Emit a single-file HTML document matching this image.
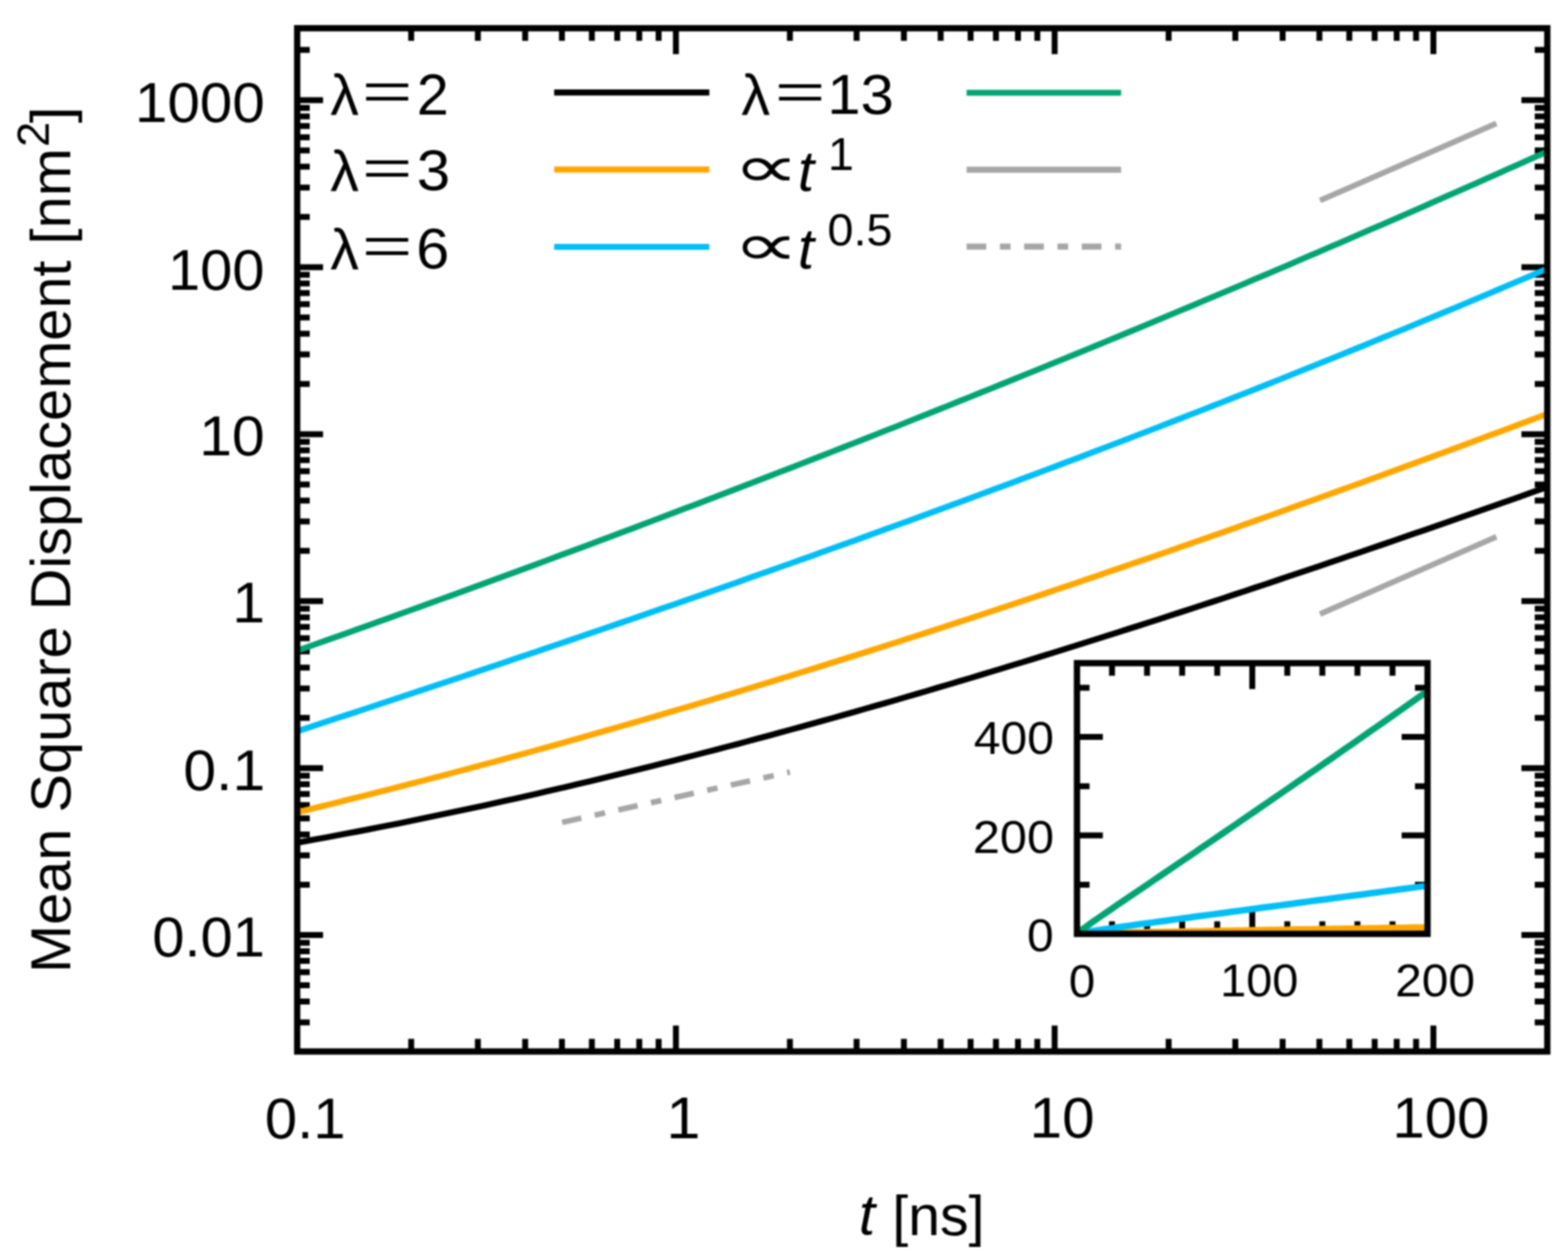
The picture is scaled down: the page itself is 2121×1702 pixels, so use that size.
<!DOCTYPE html><html><head><meta charset="utf-8"><title>Mean Square Displacement</title><style>html,body{margin:0;padding:0;background:#fff;width:2121px;height:1702px;overflow:hidden}svg{display:block;filter:blur(1px)}</style></head><body><svg xmlns="http://www.w3.org/2000/svg" width="2121" height="1702" viewBox="0 0 2121 1702">
<rect width="2121" height="1702" fill="#fff"/>
<defs><clipPath id="pc"><rect x="402.0" y="38.2" width="1691.0" height="1384.3999999999999"/></clipPath><clipPath id="ic"><rect x="1456.8" y="897.2" width="474.20000000000005" height="366.29999999999995"/></clipPath></defs>
<path d="M556.2,1422.6 v-17.0 M556.2,38.2 v17.0 M646.4,1422.6 v-17.0 M646.4,38.2 v17.0 M710.4,1422.6 v-17.0 M710.4,38.2 v17.0 M760.1,1422.6 v-17.0 M760.1,38.2 v17.0 M800.6,1422.6 v-17.0 M800.6,38.2 v17.0 M834.9,1422.6 v-17.0 M834.9,38.2 v17.0 M864.7,1422.6 v-17.0 M864.7,38.2 v17.0 M890.9,1422.6 v-17.0 M890.9,38.2 v17.0 M914.3,1422.6 v-35.0 M914.3,38.2 v35.0 M1068.5,1422.6 v-17.0 M1068.5,38.2 v17.0 M1158.7,1422.6 v-17.0 M1158.7,38.2 v17.0 M1222.7,1422.6 v-17.0 M1222.7,38.2 v17.0 M1272.4,1422.6 v-17.0 M1272.4,38.2 v17.0 M1312.9,1422.6 v-17.0 M1312.9,38.2 v17.0 M1347.2,1422.6 v-17.0 M1347.2,38.2 v17.0 M1377.0,1422.6 v-17.0 M1377.0,38.2 v17.0 M1403.2,1422.6 v-17.0 M1403.2,38.2 v17.0 M1426.6,1422.6 v-35.0 M1426.6,38.2 v35.0 M1580.8,1422.6 v-17.0 M1580.8,38.2 v17.0 M1671.0,1422.6 v-17.0 M1671.0,38.2 v17.0 M1735.0,1422.6 v-17.0 M1735.0,38.2 v17.0 M1784.7,1422.6 v-17.0 M1784.7,38.2 v17.0 M1825.2,1422.6 v-17.0 M1825.2,38.2 v17.0 M1859.5,1422.6 v-17.0 M1859.5,38.2 v17.0 M1889.3,1422.6 v-17.0 M1889.3,38.2 v17.0 M1915.5,1422.6 v-17.0 M1915.5,38.2 v17.0 M1938.9,1422.6 v-35.0 M1938.9,38.2 v35.0 M402.0,1383.2 h17.0 M2093.0,1383.2 h-17.0 M402.0,1355.0 h17.0 M2093.0,1355.0 h-17.0 M402.0,1333.1 h17.0 M2093.0,1333.1 h-17.0 M402.0,1315.2 h17.0 M2093.0,1315.2 h-17.0 M402.0,1300.1 h17.0 M2093.0,1300.1 h-17.0 M402.0,1287.0 h17.0 M2093.0,1287.0 h-17.0 M402.0,1275.4 h17.0 M2093.0,1275.4 h-17.0 M402.0,1265.1 h35.0 M2093.0,1265.1 h-35.0 M402.0,1197.1 h17.0 M2093.0,1197.1 h-17.0 M402.0,1157.3 h17.0 M2093.0,1157.3 h-17.0 M402.0,1129.1 h17.0 M2093.0,1129.1 h-17.0 M402.0,1107.2 h17.0 M2093.0,1107.2 h-17.0 M402.0,1089.3 h17.0 M2093.0,1089.3 h-17.0 M402.0,1074.2 h17.0 M2093.0,1074.2 h-17.0 M402.0,1061.1 h17.0 M2093.0,1061.1 h-17.0 M402.0,1049.5 h17.0 M2093.0,1049.5 h-17.0 M402.0,1039.2 h35.0 M2093.0,1039.2 h-35.0 M402.0,971.2 h17.0 M2093.0,971.2 h-17.0 M402.0,931.4 h17.0 M2093.0,931.4 h-17.0 M402.0,903.2 h17.0 M2093.0,903.2 h-17.0 M402.0,881.3 h17.0 M2093.0,881.3 h-17.0 M402.0,863.4 h17.0 M2093.0,863.4 h-17.0 M402.0,848.3 h17.0 M2093.0,848.3 h-17.0 M402.0,835.2 h17.0 M2093.0,835.2 h-17.0 M402.0,823.6 h17.0 M2093.0,823.6 h-17.0 M402.0,813.3 h35.0 M2093.0,813.3 h-35.0 M402.0,745.3 h17.0 M2093.0,745.3 h-17.0 M402.0,705.5 h17.0 M2093.0,705.5 h-17.0 M402.0,677.3 h17.0 M2093.0,677.3 h-17.0 M402.0,655.4 h17.0 M2093.0,655.4 h-17.0 M402.0,637.5 h17.0 M2093.0,637.5 h-17.0 M402.0,622.4 h17.0 M2093.0,622.4 h-17.0 M402.0,609.3 h17.0 M2093.0,609.3 h-17.0 M402.0,597.7 h17.0 M2093.0,597.7 h-17.0 M402.0,587.4 h35.0 M2093.0,587.4 h-35.0 M402.0,519.4 h17.0 M2093.0,519.4 h-17.0 M402.0,479.6 h17.0 M2093.0,479.6 h-17.0 M402.0,451.4 h17.0 M2093.0,451.4 h-17.0 M402.0,429.5 h17.0 M2093.0,429.5 h-17.0 M402.0,411.6 h17.0 M2093.0,411.6 h-17.0 M402.0,396.5 h17.0 M2093.0,396.5 h-17.0 M402.0,383.4 h17.0 M2093.0,383.4 h-17.0 M402.0,371.8 h17.0 M2093.0,371.8 h-17.0 M402.0,361.5 h35.0 M2093.0,361.5 h-35.0 M402.0,293.5 h17.0 M2093.0,293.5 h-17.0 M402.0,253.7 h17.0 M2093.0,253.7 h-17.0 M402.0,225.5 h17.0 M2093.0,225.5 h-17.0 M402.0,203.6 h17.0 M2093.0,203.6 h-17.0 M402.0,185.7 h17.0 M2093.0,185.7 h-17.0 M402.0,170.6 h17.0 M2093.0,170.6 h-17.0 M402.0,157.5 h17.0 M2093.0,157.5 h-17.0 M402.0,145.9 h17.0 M2093.0,145.9 h-17.0 M402.0,135.6 h35.0 M2093.0,135.6 h-35.0 M402.0,67.6 h17.0 M2093.0,67.6 h-17.0" stroke="#000" stroke-width="8.0" fill="none"/>
<g clip-path="url(#pc)" fill="none" stroke-linejoin="round" stroke-linecap="butt">
<path d="M397.0,1141.0 L411.3,1138.4 L425.6,1135.8 L439.9,1133.2 L454.2,1130.5 L468.5,1127.8 L482.8,1125.1 L497.1,1122.4 L511.4,1119.6 L525.6,1116.7 L539.9,1113.9 L554.2,1111.0 L568.5,1108.1 L582.8,1105.1 L597.1,1102.1 L611.4,1099.1 L625.7,1096.1 L640.0,1093.0 L654.3,1089.9 L668.6,1086.8 L682.9,1083.6 L697.2,1080.4 L711.5,1077.2 L725.8,1073.9 L740.1,1070.6 L754.4,1067.3 L768.6,1064.0 L782.9,1060.6 L797.2,1057.2 L811.5,1053.7 L825.8,1050.3 L840.1,1046.8 L854.4,1043.3 L868.7,1039.7 L883.0,1036.2 L897.3,1032.6 L911.6,1029.0 L925.9,1025.3 L940.2,1021.6 L954.5,1017.9 L968.8,1014.2 L983.1,1010.4 L997.4,1006.7 L1011.6,1002.9 L1025.9,999.0 L1040.2,995.2 L1054.5,991.3 L1068.8,987.4 L1083.1,983.5 L1097.4,979.5 L1111.7,975.5 L1126.0,971.6 L1140.3,967.5 L1154.6,963.5 L1168.9,959.4 L1183.2,955.3 L1197.5,951.2 L1211.8,947.1 L1226.1,942.9 L1240.4,938.8 L1254.6,934.6 L1268.9,930.3 L1283.2,926.1 L1297.5,921.8 L1311.8,917.6 L1326.1,913.3 L1340.4,908.9 L1354.7,904.6 L1369.0,900.2 L1383.3,895.9 L1397.6,891.5 L1411.9,887.0 L1426.2,882.6 L1440.5,878.1 L1454.8,873.7 L1469.1,869.2 L1483.4,864.7 L1497.6,860.1 L1511.9,855.6 L1526.2,851.0 L1540.5,846.5 L1554.8,841.9 L1569.1,837.3 L1583.4,832.6 L1597.7,828.0 L1612.0,823.3 L1626.3,818.6 L1640.6,814.0 L1654.9,809.3 L1669.2,804.5 L1683.5,799.8 L1697.8,795.0 L1712.1,790.3 L1726.4,785.5 L1740.6,780.7 L1754.9,775.9 L1769.2,771.1 L1783.5,766.3 L1797.8,761.4 L1812.1,756.6 L1826.4,751.7 L1840.7,746.8 L1855.0,741.9 L1869.3,737.0 L1883.6,732.1 L1897.9,727.2 L1912.2,722.2 L1926.5,717.3 L1940.8,712.3 L1955.1,707.3 L1969.4,702.4 L1983.6,697.4 L1997.9,692.4 L2012.2,687.4 L2026.5,682.3 L2040.8,677.3 L2055.1,672.3 L2069.4,667.2 L2083.7,662.2 L2098.0,657.1" stroke="#000000" stroke-width="8.2"/>
<path d="M397.0,1100.1 L411.3,1096.7 L425.6,1093.2 L439.9,1089.7 L454.2,1086.2 L468.5,1082.6 L482.8,1079.0 L497.1,1075.4 L511.4,1071.8 L525.6,1068.2 L539.9,1064.5 L554.2,1060.8 L568.5,1057.1 L582.8,1053.4 L597.1,1049.7 L611.4,1045.9 L625.7,1042.1 L640.0,1038.3 L654.3,1034.4 L668.6,1030.6 L682.9,1026.7 L697.2,1022.8 L711.5,1018.9 L725.8,1014.9 L740.1,1011.0 L754.4,1007.0 L768.6,1003.0 L782.9,999.0 L797.2,994.9 L811.5,990.8 L825.8,986.8 L840.1,982.6 L854.4,978.5 L868.7,974.4 L883.0,970.2 L897.3,966.0 L911.6,961.8 L925.9,957.6 L940.2,953.4 L954.5,949.1 L968.8,944.8 L983.1,940.5 L997.4,936.2 L1011.6,931.9 L1025.9,927.5 L1040.2,923.1 L1054.5,918.8 L1068.8,914.3 L1083.1,909.9 L1097.4,905.5 L1111.7,901.0 L1126.0,896.5 L1140.3,892.0 L1154.6,887.5 L1168.9,883.0 L1183.2,878.5 L1197.5,873.9 L1211.8,869.3 L1226.1,864.7 L1240.4,860.1 L1254.6,855.5 L1268.9,850.8 L1283.2,846.2 L1297.5,841.5 L1311.8,836.8 L1326.1,832.1 L1340.4,827.4 L1354.7,822.6 L1369.0,817.9 L1383.3,813.1 L1397.6,808.3 L1411.9,803.5 L1426.2,798.7 L1440.5,793.9 L1454.8,789.1 L1469.1,784.2 L1483.4,779.3 L1497.6,774.4 L1511.9,769.5 L1526.2,764.6 L1540.5,759.7 L1554.8,754.8 L1569.1,749.8 L1583.4,744.8 L1597.7,739.9 L1612.0,734.9 L1626.3,729.9 L1640.6,724.8 L1654.9,719.8 L1669.2,714.8 L1683.5,709.7 L1697.8,704.6 L1712.1,699.6 L1726.4,694.5 L1740.6,689.4 L1754.9,684.2 L1769.2,679.1 L1783.5,674.0 L1797.8,668.8 L1812.1,663.6 L1826.4,658.5 L1840.7,653.3 L1855.0,648.1 L1869.3,642.9 L1883.6,637.7 L1897.9,632.4 L1912.2,627.2 L1926.5,621.9 L1940.8,616.7 L1955.1,611.4 L1969.4,606.1 L1983.6,600.8 L1997.9,595.5 L2012.2,590.2 L2026.5,584.9 L2040.8,579.6 L2055.1,574.2 L2069.4,568.9 L2083.7,563.5 L2098.0,558.2" stroke="#ffa700" stroke-width="8.2"/>
<path d="M397.0,991.0 L411.3,986.3 L425.6,981.6 L439.9,976.9 L454.2,972.2 L468.5,967.5 L482.8,962.8 L497.1,958.1 L511.4,953.4 L525.6,948.6 L539.9,943.9 L554.2,939.1 L568.5,934.4 L582.8,929.6 L597.1,924.8 L611.4,920.1 L625.7,915.3 L640.0,910.5 L654.3,905.7 L668.6,900.9 L682.9,896.1 L697.2,891.2 L711.5,886.4 L725.8,881.6 L740.1,876.7 L754.4,871.8 L768.6,867.0 L782.9,862.1 L797.2,857.2 L811.5,852.3 L825.8,847.4 L840.1,842.5 L854.4,837.6 L868.7,832.6 L883.0,827.7 L897.3,822.7 L911.6,817.8 L925.9,812.8 L940.2,807.8 L954.5,802.8 L968.8,797.8 L983.1,792.8 L997.4,787.8 L1011.6,782.7 L1025.9,777.7 L1040.2,772.6 L1054.5,767.5 L1068.8,762.5 L1083.1,757.4 L1097.4,752.3 L1111.7,747.2 L1126.0,742.0 L1140.3,736.9 L1154.6,731.8 L1168.9,726.6 L1183.2,721.4 L1197.5,716.2 L1211.8,711.0 L1226.1,705.8 L1240.4,700.6 L1254.6,695.4 L1268.9,690.1 L1283.2,684.9 L1297.5,679.6 L1311.8,674.3 L1326.1,669.0 L1340.4,663.7 L1354.7,658.4 L1369.0,653.1 L1383.3,647.7 L1397.6,642.4 L1411.9,637.0 L1426.2,631.6 L1440.5,626.2 L1454.8,620.8 L1469.1,615.4 L1483.4,609.9 L1497.6,604.5 L1511.9,599.0 L1526.2,593.5 L1540.5,588.0 L1554.8,582.5 L1569.1,577.0 L1583.4,571.4 L1597.7,565.9 L1612.0,560.3 L1626.3,554.7 L1640.6,549.1 L1654.9,543.5 L1669.2,537.9 L1683.5,532.2 L1697.8,526.6 L1712.1,520.9 L1726.4,515.2 L1740.6,509.5 L1754.9,503.8 L1769.2,498.0 L1783.5,492.3 L1797.8,486.5 L1812.1,480.7 L1826.4,474.9 L1840.7,469.1 L1855.0,463.3 L1869.3,457.4 L1883.6,451.5 L1897.9,445.7 L1912.2,439.8 L1926.5,433.8 L1940.8,427.9 L1955.1,421.9 L1969.4,416.0 L1983.6,410.0 L1997.9,404.0 L2012.2,397.9 L2026.5,391.9 L2040.8,385.8 L2055.1,379.8 L2069.4,373.7 L2083.7,367.6 L2098.0,361.4" stroke="#00bef6" stroke-width="8.2"/>
<path d="M397.0,882.1 L411.3,877.1 L425.6,872.0 L439.9,866.9 L454.2,861.9 L468.5,856.8 L482.8,851.7 L497.1,846.6 L511.4,841.4 L525.6,836.3 L539.9,831.2 L554.2,826.0 L568.5,820.8 L582.8,815.7 L597.1,810.5 L611.4,805.3 L625.7,800.1 L640.0,794.9 L654.3,789.6 L668.6,784.4 L682.9,779.1 L697.2,773.9 L711.5,768.6 L725.8,763.3 L740.1,758.0 L754.4,752.7 L768.6,747.4 L782.9,742.1 L797.2,736.8 L811.5,731.4 L825.8,726.1 L840.1,720.7 L854.4,715.3 L868.7,709.9 L883.0,704.5 L897.3,699.1 L911.6,693.7 L925.9,688.2 L940.2,682.8 L954.5,677.3 L968.8,671.9 L983.1,666.4 L997.4,660.9 L1011.6,655.4 L1025.9,649.9 L1040.2,644.4 L1054.5,638.8 L1068.8,633.3 L1083.1,627.7 L1097.4,622.1 L1111.7,616.6 L1126.0,611.0 L1140.3,605.4 L1154.6,599.7 L1168.9,594.1 L1183.2,588.5 L1197.5,582.8 L1211.8,577.2 L1226.1,571.5 L1240.4,565.8 L1254.6,560.1 L1268.9,554.4 L1283.2,548.7 L1297.5,542.9 L1311.8,537.2 L1326.1,531.4 L1340.4,525.7 L1354.7,519.9 L1369.0,514.1 L1383.3,508.3 L1397.6,502.5 L1411.9,496.7 L1426.2,490.8 L1440.5,485.0 L1454.8,479.1 L1469.1,473.2 L1483.4,467.4 L1497.6,461.5 L1511.9,455.6 L1526.2,449.6 L1540.5,443.7 L1554.8,437.8 L1569.1,431.8 L1583.4,425.8 L1597.7,419.8 L1612.0,413.9 L1626.3,407.8 L1640.6,401.8 L1654.9,395.8 L1669.2,389.8 L1683.5,383.7 L1697.8,377.6 L1712.1,371.6 L1726.4,365.5 L1740.6,359.4 L1754.9,353.3 L1769.2,347.1 L1783.5,341.0 L1797.8,334.8 L1812.1,328.7 L1826.4,322.5 L1840.7,316.3 L1855.0,310.1 L1869.3,303.9 L1883.6,297.7 L1897.9,291.4 L1912.2,285.2 L1926.5,278.9 L1940.8,272.6 L1955.1,266.3 L1969.4,260.0 L1983.6,253.7 L1997.9,247.4 L2012.2,241.1 L2026.5,234.7 L2040.8,228.3 L2055.1,222.0 L2069.4,215.6 L2083.7,209.2 L2098.0,202.8" stroke="#02a474" stroke-width="8.2"/>
<path d="M1785.6,271.3 L2024.1,166.9" stroke="#a6a6a6" stroke-width="7.6"/>
<path d="M1785.6,830.7 L2024.1,726.3" stroke="#a6a6a6" stroke-width="7.6"/>
<path d="M760.4,1112.6 L1068.5,1044.5" stroke="#a6a6a6" stroke-width="7.6" stroke-dasharray="26.6 18.5 14.3 18.5"/>
</g>
<rect x="402.0" y="38.2" width="1691.0" height="1384.3999999999999" fill="none" stroke="#000" stroke-width="8.5"/>
<rect x="1456.8" y="897.2" width="474.20000000000005" height="366.29999999999995" fill="#fff"/>
<path d="M1504.2,1263.5 v-17.0 M1504.2,897.2 v17.0 M1551.6,1263.5 v-17.0 M1551.6,897.2 v17.0 M1599.1,1263.5 v-17.0 M1599.1,897.2 v17.0 M1646.5,1263.5 v-17.0 M1646.5,897.2 v17.0 M1693.9,1263.5 v-35.0 M1693.9,897.2 v35.0 M1741.3,1263.5 v-17.0 M1741.3,897.2 v17.0 M1788.7,1263.5 v-17.0 M1788.7,897.2 v17.0 M1836.2,1263.5 v-17.0 M1836.2,897.2 v17.0 M1883.6,1263.5 v-17.0 M1883.6,897.2 v17.0 M1456.8,1196.9 h17.0 M1931.0,1196.9 h-17.0 M1456.8,1130.3 h35.0 M1931.0,1130.3 h-35.0 M1456.8,1063.7 h17.0 M1931.0,1063.7 h-17.0 M1456.8,997.1 h35.0 M1931.0,997.1 h-35.0 M1456.8,930.5 h17.0 M1931.0,930.5 h-17.0" stroke="#000" stroke-width="8.0" fill="none"/>
<g clip-path="url(#ic)" fill="none" stroke-linejoin="round">
<path d="M1456.8,1263.5 L1457.0,1263.5 L1457.3,1263.5 L1457.5,1263.5 L1457.7,1263.5 L1458.0,1263.4 L1458.2,1263.4 L1458.5,1263.4 L1458.7,1263.4 L1458.9,1263.4 L1459.2,1263.4 L1459.4,1263.4 L1459.6,1263.4 L1459.9,1263.4 L1460.1,1263.4 L1460.4,1263.4 L1460.6,1263.4 L1460.8,1263.4 L1461.1,1263.4 L1461.3,1263.4 L1461.5,1263.4 L1462.0,1263.4 L1470.2,1263.3 L1478.3,1263.2 L1486.5,1263.1 L1494.6,1263.0 L1502.8,1263.0 L1510.9,1262.9 L1519.1,1262.8 L1527.2,1262.8 L1535.4,1262.7 L1543.5,1262.6 L1551.7,1262.6 L1559.8,1262.5 L1568.0,1262.5 L1576.1,1262.4 L1584.3,1262.4 L1592.4,1262.3 L1600.6,1262.2 L1608.7,1262.2 L1616.9,1262.1 L1625.0,1262.1 L1633.2,1262.0 L1641.3,1262.0 L1649.5,1261.9 L1657.6,1261.9 L1665.8,1261.8 L1673.9,1261.8 L1682.1,1261.7 L1690.2,1261.7 L1698.4,1261.6 L1706.5,1261.6 L1714.7,1261.5 L1722.8,1261.5 L1731.0,1261.4 L1739.1,1261.4 L1747.3,1261.3 L1755.4,1261.3 L1763.6,1261.2 L1771.7,1261.2 L1779.9,1261.1 L1788.0,1261.1 L1796.2,1261.0 L1804.3,1261.0 L1812.5,1260.9 L1820.6,1260.9 L1828.8,1260.9 L1836.9,1260.8 L1845.1,1260.8 L1853.2,1260.7 L1861.4,1260.7 L1869.5,1260.6 L1877.7,1260.6 L1885.8,1260.5 L1894.0,1260.5 L1902.1,1260.4 L1910.3,1260.4 L1918.4,1260.4 L1926.6,1260.3 L1934.7,1260.3 L1942.9,1260.2" stroke="#000000" stroke-width="8.8"/>
<path d="M1456.8,1263.5 L1457.0,1263.5 L1457.3,1263.4 L1457.5,1263.4 L1457.7,1263.4 L1458.0,1263.4 L1458.2,1263.4 L1458.5,1263.4 L1458.7,1263.4 L1458.9,1263.4 L1459.2,1263.4 L1459.4,1263.3 L1459.6,1263.3 L1459.9,1263.3 L1460.1,1263.3 L1460.4,1263.3 L1460.6,1263.3 L1460.8,1263.3 L1461.1,1263.3 L1461.3,1263.3 L1461.5,1263.3 L1462.0,1263.2 L1470.2,1263.0 L1478.3,1262.8 L1486.5,1262.6 L1494.6,1262.4 L1502.8,1262.2 L1510.9,1262.0 L1519.1,1261.9 L1527.2,1261.7 L1535.4,1261.5 L1543.5,1261.4 L1551.7,1261.2 L1559.8,1261.0 L1568.0,1260.9 L1576.1,1260.7 L1584.3,1260.6 L1592.4,1260.4 L1600.6,1260.3 L1608.7,1260.1 L1616.9,1260.0 L1625.0,1259.8 L1633.2,1259.7 L1641.3,1259.5 L1649.5,1259.4 L1657.6,1259.2 L1665.8,1259.1 L1673.9,1258.9 L1682.1,1258.8 L1690.2,1258.7 L1698.4,1258.5 L1706.5,1258.4 L1714.7,1258.2 L1722.8,1258.1 L1731.0,1258.0 L1739.1,1257.8 L1747.3,1257.7 L1755.4,1257.5 L1763.6,1257.4 L1771.7,1257.3 L1779.9,1257.1 L1788.0,1257.0 L1796.2,1256.9 L1804.3,1256.7 L1812.5,1256.6 L1820.6,1256.5 L1828.8,1256.3 L1836.9,1256.2 L1845.1,1256.1 L1853.2,1255.9 L1861.4,1255.8 L1869.5,1255.7 L1877.7,1255.5 L1885.8,1255.4 L1894.0,1255.3 L1902.1,1255.2 L1910.3,1255.0 L1918.4,1254.9 L1926.6,1254.8 L1934.7,1254.6 L1942.9,1254.5" stroke="#ffa700" stroke-width="8.8"/>
<path d="M1456.8,1263.5 L1457.0,1263.4 L1457.3,1263.3 L1457.5,1263.2 L1457.7,1263.2 L1458.0,1263.1 L1458.2,1263.1 L1458.5,1263.0 L1458.7,1263.0 L1458.9,1262.9 L1459.2,1262.9 L1459.4,1262.8 L1459.6,1262.8 L1459.9,1262.7 L1460.1,1262.7 L1460.4,1262.6 L1460.6,1262.6 L1460.8,1262.5 L1461.1,1262.5 L1461.3,1262.4 L1461.5,1262.4 L1462.0,1262.3 L1470.2,1260.9 L1478.3,1259.6 L1486.5,1258.3 L1494.6,1257.1 L1502.8,1256.0 L1510.9,1254.8 L1519.1,1253.6 L1527.2,1252.5 L1535.4,1251.3 L1543.5,1250.2 L1551.7,1249.1 L1559.8,1248.0 L1568.0,1246.9 L1576.1,1245.8 L1584.3,1244.6 L1592.4,1243.5 L1600.6,1242.4 L1608.7,1241.3 L1616.9,1240.2 L1625.0,1239.1 L1633.2,1238.0 L1641.3,1237.0 L1649.5,1235.9 L1657.6,1234.8 L1665.8,1233.7 L1673.9,1232.6 L1682.1,1231.5 L1690.2,1230.4 L1698.4,1229.3 L1706.5,1228.2 L1714.7,1227.1 L1722.8,1226.1 L1731.0,1225.0 L1739.1,1223.9 L1747.3,1222.8 L1755.4,1221.7 L1763.6,1220.6 L1771.7,1219.5 L1779.9,1218.4 L1788.0,1217.4 L1796.2,1216.3 L1804.3,1215.2 L1812.5,1214.1 L1820.6,1213.0 L1828.8,1211.9 L1836.9,1210.8 L1845.1,1209.8 L1853.2,1208.7 L1861.4,1207.6 L1869.5,1206.5 L1877.7,1205.4 L1885.8,1204.3 L1894.0,1203.2 L1902.1,1202.1 L1910.3,1201.0 L1918.4,1199.9 L1926.6,1198.9 L1934.7,1197.8 L1942.9,1196.7" stroke="#00bef6" stroke-width="8.8"/>
<path d="M1456.8,1263.5 L1457.0,1263.2 L1457.3,1262.9 L1457.5,1262.7 L1457.7,1262.5 L1458.0,1262.2 L1458.2,1262.0 L1458.5,1261.8 L1458.7,1261.6 L1458.9,1261.4 L1459.2,1261.2 L1459.4,1261.0 L1459.6,1260.8 L1459.9,1260.6 L1460.1,1260.5 L1460.4,1260.3 L1460.6,1260.1 L1460.8,1259.9 L1461.1,1259.7 L1461.3,1259.5 L1461.5,1259.3 L1462.0,1259.0 L1470.2,1253.0 L1478.3,1247.2 L1486.5,1241.5 L1494.6,1235.9 L1502.8,1230.3 L1510.9,1224.7 L1519.1,1219.2 L1527.2,1213.7 L1535.4,1208.1 L1543.5,1202.6 L1551.7,1197.1 L1559.8,1191.5 L1568.0,1186.0 L1576.1,1180.5 L1584.3,1174.9 L1592.4,1169.4 L1600.6,1163.9 L1608.7,1158.3 L1616.9,1152.8 L1625.0,1147.2 L1633.2,1141.7 L1641.3,1136.1 L1649.5,1130.5 L1657.6,1125.0 L1665.8,1119.4 L1673.9,1113.8 L1682.1,1108.2 L1690.2,1102.6 L1698.4,1097.0 L1706.5,1091.4 L1714.7,1085.8 L1722.8,1080.2 L1731.0,1074.6 L1739.1,1069.0 L1747.3,1063.3 L1755.4,1057.7 L1763.6,1052.1 L1771.7,1046.4 L1779.9,1040.8 L1788.0,1035.1 L1796.2,1029.5 L1804.3,1023.8 L1812.5,1018.1 L1820.6,1012.4 L1828.8,1006.8 L1836.9,1001.1 L1845.1,995.4 L1853.2,989.7 L1861.4,984.0 L1869.5,978.3 L1877.7,972.6 L1885.8,966.8 L1894.0,961.1 L1902.1,955.4 L1910.3,949.7 L1918.4,943.9 L1926.6,938.2 L1934.7,932.4 L1942.9,926.7" stroke="#02a474" stroke-width="8.8"/>
</g>
<rect x="1456.8" y="897.2" width="474.20000000000005" height="366.29999999999995" fill="none" stroke="#000" stroke-width="8.5"/>
<g fill="none" stroke-width="8.2" stroke-linecap="butt">
<path d="M749.6,125.1 H959.5" stroke="#000000"/>
<path d="M749.6,229.4 H959.5" stroke="#ffa700"/>
<path d="M749.6,334.0 H959.5" stroke="#00bef6"/>
<path d="M1307.5,125.5 H1516.5" stroke="#02a474"/>
<path d="M1307.5,229.6 H1516.5" stroke="#a6a6a6"/>
<path d="M1307.5,333.7 H1516.5" stroke="#a6a6a6" stroke-dasharray="26.6 18.5 14.3 18.5"/>
</g>
<g fill="#000">
<text transform="translate(182.48,165.44) scale(0.7900,0.7592)" font-family="Liberation Sans" font-size="100">1000</text>
<text transform="translate(227.14,391.53) scale(0.7826,0.7746)" font-family="Liberation Sans" font-size="100">100</text>
<text transform="translate(269.53,615.95) scale(0.7960,0.7521)" font-family="Liberation Sans" font-size="100">10</text>
<text transform="translate(314.14,842.30) scale(0.7953,0.7826)" font-family="Liberation Sans" font-size="100">1</text>
<text transform="translate(248.02,1069.43) scale(0.7962,0.7746)" font-family="Liberation Sans" font-size="100">0.1</text>
<text transform="translate(205.97,1294.04) scale(0.7828,0.7606)" font-family="Liberation Sans" font-size="100">0.01</text>
<text transform="translate(358.36,1539.52) scale(0.7854,0.7817)" font-family="Liberation Sans" font-size="100">0.1</text>
<text transform="translate(901.24,1540.30) scale(0.8326,0.8014)" font-family="Liberation Sans" font-size="100">1</text>
<text transform="translate(1392.79,1539.23) scale(0.7889,0.7690)" font-family="Liberation Sans" font-size="100">10</text>
<text transform="translate(1883.51,1539.23) scale(0.7858,0.7690)" font-family="Liberation Sans" font-size="100">100</text>
<text transform="translate(1161.84,1669.73) scale(0.7923,0.7712)" font-family="Liberation Sans" font-style="italic" font-size="100">t</text>
<text transform="translate(1206.98,1670.69) scale(0.7748,0.7670)" font-family="Liberation Sans" font-size="100">[ns]</text>
<text transform="rotate(-90) translate(-1316.45,94.58) scale(0.7813,0.7628)" font-family="Liberation Sans" font-size="100">Mean Square Displacement [nm</text>
<text transform="rotate(-90) translate(-198.74,66.00) scale(0.6087,0.6100)" font-family="Liberation Sans" font-size="100">2</text>
<text transform="rotate(-90) translate(-166.82,94.50) scale(0.8200,0.7617)" font-family="Liberation Sans" font-size="100">]</text>
<text transform="translate(446.73,155.88) scale(0.7750,0.7792)" font-family="Liberation Sans" font-size="100">λ</text>
<text transform="translate(489.44,147.95) scale(1.1729,0.6969)" font-family="Liberation Sans" font-size="100">=</text>
<text transform="translate(563.81,155.10) scale(0.7783,0.7814)" font-family="Liberation Sans" font-size="100">2</text>
<text transform="translate(446.73,258.98) scale(0.7750,0.7833)" font-family="Liberation Sans" font-size="100">λ</text>
<text transform="translate(489.44,250.63) scale(1.1729,0.6781)" font-family="Liberation Sans" font-size="100">=</text>
<text transform="translate(563.65,257.42) scale(0.8128,0.7789)" font-family="Liberation Sans" font-size="100">3</text>
<text transform="translate(446.73,364.68) scale(0.7750,0.7833)" font-family="Liberation Sans" font-size="100">λ</text>
<text transform="translate(489.44,356.80) scale(1.1729,0.7000)" font-family="Liberation Sans" font-size="100">=</text>
<text transform="translate(562.88,363.12) scale(0.8043,0.7775)" font-family="Liberation Sans" font-size="100">6</text>
<text transform="translate(1002.82,156.38) scale(0.7792,0.7833)" font-family="Liberation Sans" font-size="100">λ</text>
<text transform="translate(1048.12,147.69) scale(1.1750,0.6875)" font-family="Liberation Sans" font-size="100">=</text>
<text transform="translate(1119.01,153.74) scale(0.8111,0.7563)" font-family="Liberation Sans" font-size="100">13</text>
<text transform="translate(991.25,252.80) scale(1.2680,0.8000)" font-family="Liberation Sans" font-size="100">∝</text>
<text transform="translate(1079.34,257.82) scale(0.7923,0.7803)" font-family="Liberation Sans" font-style="italic" font-size="100">t</text>
<text transform="translate(1119.96,229.90) scale(0.6302,0.6217)" font-family="Liberation Sans" font-size="100">1</text>
<text transform="translate(991.25,359.14) scale(1.2680,0.8132)" font-family="Liberation Sans" font-size="100">∝</text>
<text transform="translate(1079.34,362.53) scale(0.7923,0.7727)" font-family="Liberation Sans" font-style="italic" font-size="100">t</text>
<text transform="translate(1119.27,332.28) scale(0.6328,0.6183)" font-family="Liberation Sans" font-size="100">0.5</text>
<text transform="translate(1317.20,1020.37) scale(0.6503,0.6296)" font-family="Liberation Sans" font-size="100">400</text>
<text transform="translate(1316.01,1153.76) scale(0.6576,0.6380)" font-family="Liberation Sans" font-size="100">200</text>
<text transform="translate(1389.21,1287.27) scale(0.6479,0.6324)" font-family="Liberation Sans" font-size="100">0</text>
<text transform="translate(1445.73,1348.77) scale(0.6417,0.6310)" font-family="Liberation Sans" font-size="100">0</text>
<text transform="translate(1650.54,1348.47) scale(0.6329,0.6296)" font-family="Liberation Sans" font-size="100">100</text>
<text transform="translate(1887.27,1348.47) scale(0.6468,0.6296)" font-family="Liberation Sans" font-size="100">200</text>
</g>
</svg></body></html>
